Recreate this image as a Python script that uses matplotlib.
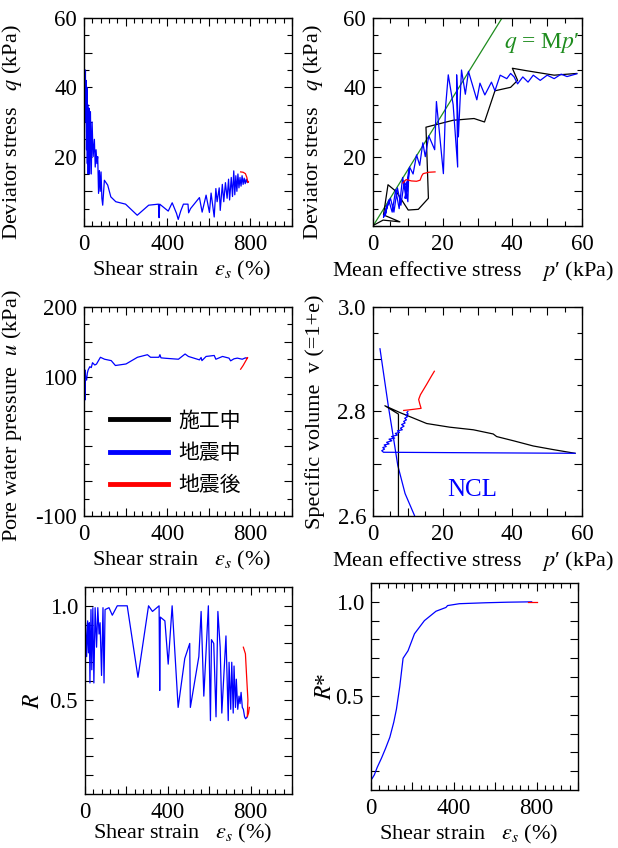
import matplotlib
matplotlib.use('Agg')
import matplotlib.pyplot as plt
from matplotlib.lines import Line2D
from matplotlib.ticker import MultipleLocator
import numpy as np

plt.rcParams['font.family'] = ['Liberation Serif', 'DejaVu Serif']
plt.rcParams['mathtext.fontset'] = 'stix'
plt.rcParams['axes.unicode_minus'] = False

BLUE = '#0000ff'
RED = '#ff0000'
GREEN = '#1e8c1e'

# ---------------- data ----------------
# q - shear strain (during / after earthquake)
eps_q_quake = [0, 2, 4, 5, 7, 8, 10, 12, 14, 16, 18, 20, 22, 24, 27, 31, 35, 39, 44, 50,
               54, 58, 62, 66, 70, 74, 78, 82, 86, 90,
               98, 114, 129, 153, 200, 256, 311, 358, 361, 364,
               405, 424, 445, 453, 465, 478, 500, 503, 512, 555,
               568, 587, 603, 611, 626, 634, 640, 650, 655, 665,
               672, 680, 688, 695, 700, 708, 714, 720, 725, 730,
               735, 740, 745, 750, 755, 760, 765, 770, 775, 780, 785, 790]
q_quake = [45, 27, 44, 36, 45, 30, 42, 22, 40, 18, 35, 15, 30, 34, 15, 33, 15, 30, 20, 25,
           17, 22, 18, 20, 9.4, 16, 10, 15.6, 8, 6,
           13.2, 11.8, 8.4, 7, 6.3, 3.1, 6, 6.3, 2.4, 6.3,
           4.3, 6.7, 3.6, 1.9, 4.3, 6.3, 6.3, 3.8, 5, 8.2,
           4, 8.9, 3.9, 9.5, 2.6, 10.8, 7, 11, 4.5, 12,
           7, 12.5, 8, 13.5, 7.5, 14, 8.5, 15.9, 9, 14.5,
           10, 15, 11, 14, 11.5, 14.5, 12, 13.8, 12.2, 13.5, 12.5, 12.8]
eps_q_after = [753, 765, 776, 783, 787, 790, 786]
q_after = [15.6, 15.5, 15.1, 14.0, 12.8, 12.6, 12.9]

# q - p'
p_build = [0.3, 2.9, 7.7, 3.0, 4.3, 6.7, 10.1, 13.0, 15.9, 15.2, 23.0, 29.0, 32.0, 35.0,
           39.5, 41.5, 40.0, 44.0, 52.0, 58.5]
q_build = [0.3, 1.7, 1.2, 3.2, 11.9, 9.9, 4.6, 4.8, 8.0, 28.5, 30.5, 31.0, 30.0, 39.0,
           40.0, 42.0, 45.5, 44.8, 43.5, 44.0]
p_quake = [58.5, 55.7, 54.0, 52.0, 50.0, 48.0, 46.0, 44.5, 43.0, 41.5,
           40.5, 39.5, 38.4, 36.5, 35.0, 34.0, 32.1, 30.7, 29.8, 27.4,
           26.5, 25.4, 24.5, 24.0, 24.3, 23.0, 21.6, 20.8, 20.2, 18.2,
           17.7, 16.0, 15.0, 14.3, 13.4, 12.5, 11.5, 10.5, 9.5, 8.5,
           7.5, 6.5, 5.5, 4.5, 3.5, 4.0, 3.0, 5.0, 6.0, 7.0,
           8.0, 9.0, 10.0, 10.3, 9.2, 10.0, 9.4]
q_quake_p = [43.9, 43.1, 43.8, 42.5, 43.5, 42.0, 43.5, 41.5, 43.0, 41.0,
             43.0, 44.0, 42.5, 43.5, 39.0, 41.5, 37.8, 41.2, 36.4, 44.6,
             38.0, 45.0, 25.7, 43.6, 17.0, 35.0, 43.6, 34.0, 15.1, 35.9,
             22.0, 26.0, 20.0, 24.0, 17.5, 20.5, 15.0, 17.0, 8.0, 14.0,
             5.0, 10.5, 4.0, 7.5, 3.0, 6.0, 2.5, 8.0, 4.0, 11.0,
             6.0, 13.0, 7.0, 16.5, 8.0, 13.0, 12.0]
p_after = [8.6, 9.5, 11.0, 12.5, 13.5, 14.0, 14.4, 16.0, 17.8]
q_after_p = [12.4, 13.4, 13.0, 12.9, 13.2, 14.5, 15.1, 15.5, 15.6]
M_csl = 1.62
p_csl = [0, 60]

# pore water pressure - shear strain
eps_u_quake = [0, 3, 5, 5, 8, 12.6, 16, 20, 28, 35, 41, 52, 60, 79, 99, 131, 151, 202, 257, 305,
               320, 360, 365, 370, 391, 454, 486, 502, 555, 563, 567, 587, 626, 634, 666, 697,
               705, 721, 737, 761, 776, 784]
u_quake = [80, 95, 66.5, 109.6, 100, 95, 105, 109.6, 114.3, 113, 120, 116.7, 118, 127.8, 125,
           123, 116, 118.2, 127.8, 131.5, 127.8, 127.8, 131.5, 127, 126.4, 125, 132.5, 129,
           124.1, 127.5, 123, 129, 130.4, 125, 129, 126.6, 122.7, 125.6, 126.6, 125, 127, 126.6]
eps_u_after = [753, 765, 776, 787, 781]
u_after = [110.7, 116, 121.8, 127.5, 126]

# specific volume - p'
p_v_build = [7.3, 7.3, 3.4, 7.7, 15.4, 22.0, 28.8, 34.5, 35.5, 40.3, 46.0, 51.8, 58.0]
v_build = [2.55, 2.795, 2.811, 2.798, 2.777, 2.770, 2.765, 2.757, 2.752, 2.744, 2.734, 2.727, 2.720]
p_v_quake = [58.0, 30.0, 3.0, 2.5, 3.3, 2.8, 3.8, 3.2, 4.6, 3.9, 5.4, 4.6, 6.2, 5.3, 7.0, 6.4,
             7.6, 7.0, 8.4, 7.9, 8.9, 8.2, 9.2, 8.8, 9.6, 9.1, 9.9, 9.4, 10.1, 9.7, 10.0]
v_quake = [2.720, 2.721, 2.722, 2.725, 2.728, 2.731, 2.733, 2.736, 2.738, 2.741, 2.744, 2.747,
           2.749, 2.752, 2.755, 2.758, 2.760, 2.763, 2.765, 2.768, 2.772, 2.775, 2.778, 2.781,
           2.784, 2.787, 2.790, 2.793, 2.795, 2.798, 2.800]
p_v_after = [8.8, 10.2, 13.8, 13.4, 13.1, 13.6, 15.4, 16.7, 17.6]
v_after = [2.802, 2.803, 2.806, 2.815, 2.823, 2.832, 2.852, 2.867, 2.877]
p_ncl = [2.0, 4.4, 5.9, 7.1, 9.2, 11.9]
v_ncl = [2.920, 2.810, 2.748, 2.697, 2.643, 2.601]

# R - shear strain
eps_R_quake = [0, 3, 8, 13, 17, 21, 24, 29, 33, 38, 43, 49, 56, 62, 68, 73, 80, 87, 92, 97,
               116, 132, 156, 204, 256, 307, 326, 358, 361, 364, 386, 402, 421, 450, 482, 506,
               509, 550, 561, 574, 596, 606, 611, 622, 633, 642, 653, 661, 681, 692, 696, 704,
               709, 716, 720, 727, 731, 738, 744, 749, 754, 760, 765, 771, 776, 784]
R_quake = [0.43, 0.91, 0.73, 0.92, 0.75, 0.91, 0.59, 0.98, 0.66, 0.99, 0.59, 0.99, 0.78, 0.99,
           0.85, 0.91, 0.63, 0.99, 0.59, 0.98, 0.99, 0.95, 1.0, 1.0, 0.62, 1.0, 0.97, 1.0, 0.55,
           0.94, 0.92, 0.69, 1.0, 0.46, 0.72, 0.80, 0.46, 0.73, 0.97, 0.52, 1.0, 0.39, 0.82,
           0.80, 0.41, 0.97, 0.78, 0.43, 0.84, 0.39, 0.70, 0.45, 0.70, 0.43, 0.68, 0.46, 0.61,
           0.45, 0.52, 0.48, 0.54, 0.46, 0.45, 0.41, 0.40, 0.41]
eps_R_after = [765, 775, 781, 787, 784, 790, 794]
R_after = [0.78, 0.745, 0.62, 0.50, 0.41, 0.43, 0.46]

# R* - shear strain
eps_Rs_quake = [0, 5, 16, 30, 51, 70, 91, 110, 123, 139, 155, 179, 210, 258, 314, 350, 362,
                370, 427, 554, 660, 776]
Rs_quake = [0.055, 0.06, 0.08, 0.12, 0.17, 0.22, 0.28, 0.36, 0.43, 0.55, 0.70, 0.74, 0.83,
            0.90, 0.95, 0.965, 0.97, 0.98, 0.99, 0.995, 0.998, 1.0]
eps_Rs_after = [760, 800]
Rs_after = [1.0, 1.0]

legend_labels = ['施工中', '地震中', '地震後']

# tick labels
eps_ticks = [0, 200, 400, 600, 800, 1000]
eps_ticklabels = ['0', '', '400', '', '800', '']
p_ticks = [0, 10, 20, 30, 40, 50, 60]
p_ticklabels = ['0', '', '20', '', '40', '', '60']
q_ticks = [0, 10, 20, 30, 40, 50, 60]
q_ticklabels = ['', '', '20', '', '40', '', '60']
u_ticks = [-100, -50, 0, 50, 100, 150, 200]
u_ticklabels = ['-100', '', '', '', '100', '', '200']
v_ticks = [2.6, 2.7, 2.8, 2.9, 3.0]
v_ticklabels = ['2.6', '', '2.8', '', '3.0']
r_ticks = [0.1, 0.2, 0.3, 0.4, 0.5, 0.6, 0.7, 0.8, 0.9, 1.0]
r_ticklabels = ['', '', '', '', '0.5', '', '', '', '', '1.0']

EPS_LABEL = r'Shear strain   $\varepsilon_s$ (%)'
P_LABEL = r'Mean effective stress    $p$′ (kPa)'
LAB = 16
LW = 0.9


def style(ax, xt, xtl, xminor, yt, ytl, yminor):
    ax.set_xticks(xt)
    ax.set_xticklabels(xtl)
    ax.set_yticks(yt)
    ax.set_yticklabels(ytl)
    if xminor:
        ax.xaxis.set_minor_locator(MultipleLocator(xminor))
    if yminor:
        ax.yaxis.set_minor_locator(MultipleLocator(yminor))
    ax.tick_params(which='both', direction='in', top=True, right=True,
                   labelsize=16.5, width=0.8)
    ax.tick_params(axis='x', pad=5.5)
    ax.tick_params(axis='y', pad=5)
    ax.tick_params(which='major', length=5.5)
    ax.tick_params(which='minor', length=3.5)
    for s in ax.spines.values():
        s.set_linewidth(1.0)


fig = plt.figure(figsize=(6.18, 8.48), dpi=100)

ax1 = fig.add_axes([0.1359, 0.7335, 0.3366, 0.2453])
ax2 = fig.add_axes([0.6036, 0.7335, 0.3382, 0.2453])
ax3 = fig.add_axes([0.1359, 0.3915, 0.3366, 0.2465])
ax4 = fig.add_axes([0.6036, 0.3915, 0.3382, 0.2465])
ax5 = fig.add_axes([0.1375, 0.0637, 0.3350, 0.2441])
ax6 = fig.add_axes([0.6003, 0.0684, 0.3350, 0.2441])

# (1) q - eps
ax1.plot(eps_q_quake, q_quake, color=BLUE, lw=LW)
ax1.plot(eps_q_after, q_after, color=RED, lw=LW)
ax1.set_xlim(0, 1000)
ax1.set_ylim(0, 60)
style(ax1, eps_ticks, eps_ticklabels, 40, q_ticks, q_ticklabels, 5)
ax1.set_ylabel(r'Deviator stress   $q$ (kPa)', fontsize=LAB)
ax1.set_xlabel(EPS_LABEL, fontsize=LAB)

# (2) q - p'
ax2.plot(p_csl, [M_csl * p for p in p_csl], color=GREEN, lw=LW)
ax2.plot(p_build, q_build, color='black', lw=LW)
ax2.plot(p_quake, q_quake_p, color=BLUE, lw=LW)
ax2.plot(p_after, q_after_p, color=RED, lw=LW)
ax2.text(37.6, 52.7, r'$q$ = M$p$′', color=GREEN, fontsize=17, va='center')
ax2.set_xlim(0, 60)
ax2.set_ylim(0, 60)
style(ax2, p_ticks, p_ticklabels, 5, q_ticks, q_ticklabels, 5)
ax2.set_ylabel(r'Deviator stress   $q$ (kPa)', fontsize=LAB)
ax2.set_xlabel(P_LABEL, fontsize=LAB)

# (3) u - eps
ax3.plot(eps_u_quake, u_quake, color=BLUE, lw=LW)
ax3.plot(eps_u_after, u_after, color=RED, lw=LW)
ax3.set_xlim(0, 1000)
ax3.set_ylim(-100, 200)
style(ax3, eps_ticks, eps_ticklabels, 40, u_ticks, u_ticklabels, 25)
ax3.set_ylabel(r'Pore water pressure  $u$ (kPa)', fontsize=LAB)
ax3.set_xlabel(EPS_LABEL, fontsize=LAB)
handles = [Line2D([], [], color=c, lw=3.5) for c in ['black', BLUE, RED]]
ax3.legend(handles, legend_labels, loc='upper left', bbox_to_anchor=(0.125, 0.51),
           frameon=False, borderpad=0, borderaxespad=0, handlelength=2.8,
           handletextpad=0.5, labelspacing=0.5,
           prop={'family': ['Noto Sans CJK JP'], 'size': 15})

# (4) v - p'
ax4.plot(p_ncl, v_ncl, color=BLUE, lw=LW)
ax4.plot(p_v_build, v_build, color='black', lw=LW)
ax4.plot(p_v_quake, v_quake, color=BLUE, lw=LW)
ax4.plot(p_v_after, v_after, color=RED, lw=LW)
ax4.text(28.5, 2.65, 'NCL', color=BLUE, fontsize=18, ha='center', va='center')
ax4.set_xlim(0, 60)
ax4.set_ylim(2.6, 3.0)
style(ax4, p_ticks, p_ticklabels, 5, v_ticks, v_ticklabels, 0.05)
ax4.set_ylabel('Specific volume  v (=1+e)', fontsize=LAB)
ax4.set_xlabel(P_LABEL, fontsize=LAB)

# (5) R - eps
ax5.plot(eps_R_quake, R_quake, color=BLUE, lw=LW)
ax5.plot(eps_R_after, R_after, color=RED, lw=LW)
ax5.set_xlim(0, 1000)
ax5.set_ylim(0, 1.1)
style(ax5, eps_ticks, eps_ticklabels, 40, r_ticks, r_ticklabels, None)
ax5.set_ylabel(r'$R$', fontsize=17)
ax5.set_xlabel(EPS_LABEL, fontsize=LAB)

# (6) R* - eps
ax6.plot(eps_Rs_quake, Rs_quake, color=BLUE, lw=LW)
ax6.plot(eps_Rs_after, Rs_after, color=RED, lw=LW)
ax6.set_xlim(0, 1000)
ax6.set_ylim(0, 1.1)
style(ax6, eps_ticks, eps_ticklabels, 40, r_ticks, r_ticklabels, None)
ax6.set_ylabel(r'$R$*', fontsize=17)
ax6.set_xlabel(EPS_LABEL, fontsize=LAB)

ax1.yaxis.set_label_coords(-0.29, 0.45)
ax3.yaxis.set_label_coords(-0.29, 0.48)
ax2.yaxis.set_label_coords(-0.23, 0.45)
ax4.yaxis.set_label_coords(-0.23, 0.5)
ax5.yaxis.set_label_coords(-0.20, 0.45)
ax6.yaxis.set_label_coords(-0.17, 0.5)
for ax in (ax1, ax3, ax6):
    ax.xaxis.set_label_coords(0.47, -0.16)
ax5.xaxis.set_label_coords(0.47, -0.135)
for ax in (ax2, ax4):
    ax.xaxis.set_label_coords(0.48, -0.16)

fig.savefig('out.png', dpi=100)
